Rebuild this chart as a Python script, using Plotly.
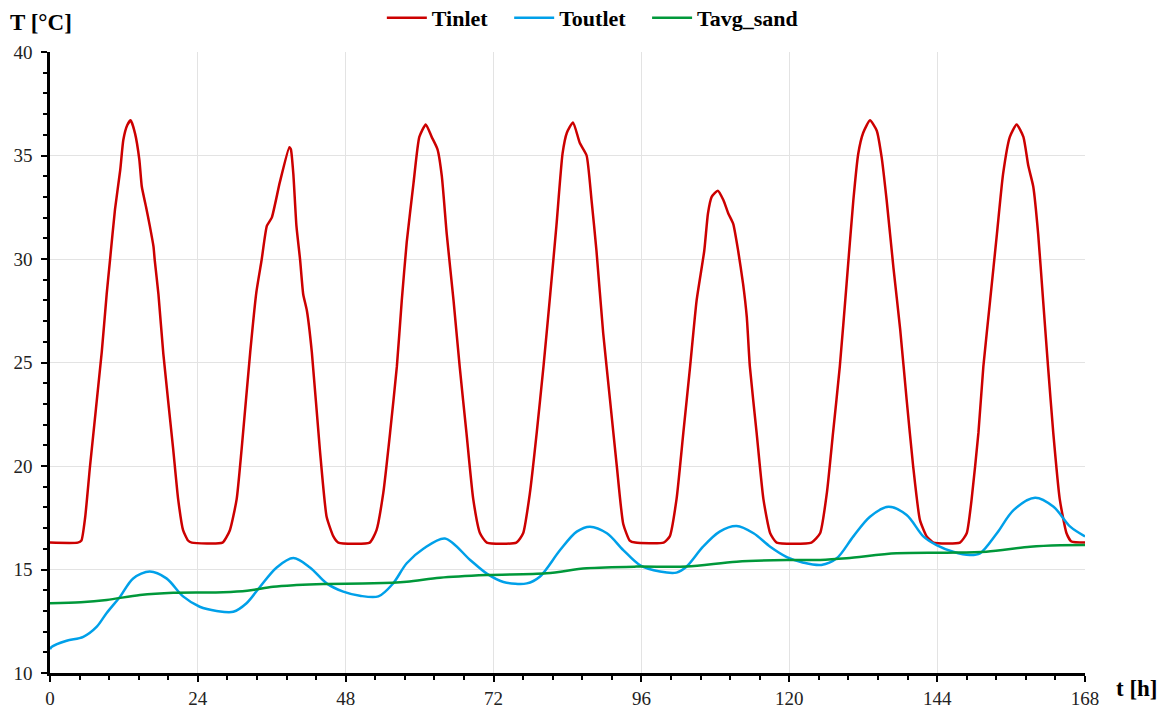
import plotly.graph_objects as go

# ---- data ----
t_inlet = [0, 4.5, 5.1, 5.7, 6.5, 8.4, 9.2, 9.74, 10.55, 11.4, 11.9, 12.55, 13.1, 13.8, 14.5, 14.9,
           15.6, 16.2, 16.8, 17.0, 17.6, 18.4, 20.0, 20.8, 21.6, 22.4, 23.0, 28.0,
           29.2, 30.3, 31.1, 32.5, 33.5, 34.35, 35.2, 36.0, 37.3, 38.85, 39.1, 39.5, 40.0, 40.6, 41.1, 41.7,
           42.5, 43.8, 44.9, 46.0, 46.8, 51.9,
           53.0, 54.1, 55.2, 56.3, 57.1, 57.9, 59.0, 59.95, 61.0, 61.95, 62.9, 63.6, 64.4, 65.5, 66.5,
           67.6, 68.7, 69.8, 70.9, 75.7,
           76.8, 77.9, 79.0, 80.1, 81.2, 82.2, 83.2, 83.9, 84.9, 86.0, 87.1, 87.9, 88.7, 89.8, 90.9,
           92.0, 93.05, 94.1, 95.0, 99.6,
           100.6, 101.7, 102.8, 103.9, 104.96, 106.2, 106.8, 107.4, 108.4, 109.3, 110.1, 110.9, 111.7,
           112.5, 113.1, 113.6, 114.7, 115.8, 116.9, 117.95, 123.6,
           125.0, 126.1, 127.1, 128.2, 129.3, 130.4, 131.2, 132.0, 133.1, 134.2, 135.0, 135.8, 136.9,
           138.0, 139.05, 140.1, 141.2, 142.3, 143.4, 147.7,
           148.8, 149.6, 150.7, 151.5, 152.6, 153.7, 154.7, 155.8, 156.9, 158.0, 158.8, 159.6, 160.4,
           161.2, 162.0, 162.85, 163.9, 165.0, 165.8, 168.0]
T_inlet = [16.3, 16.3, 16.4, 17.5, 20.0, 25.5, 28.3, 29.95, 32.4, 34.3, 35.75, 36.47, 36.7, 36.07, 34.8, 33.5,
           32.5, 31.6, 30.6, 29.95, 28.3, 25.4, 20.8, 18.4, 16.9, 16.4, 16.3, 16.3,
           16.9, 18.4, 20.8, 25.5, 28.4, 29.95, 31.6, 32.0, 33.7, 35.4, 35.3, 34.1, 31.6, 29.95, 28.3, 27.5,
           25.5, 20.8, 17.55, 16.6, 16.3, 16.3,
           16.9, 18.7, 21.6, 24.8, 28.0, 30.8, 33.65, 35.9, 36.5, 35.9, 35.3, 34.0, 31.2, 28.0, 24.8,
           21.6, 18.4, 16.75, 16.3, 16.3,
           16.75, 18.7, 21.6, 24.8, 28.3, 31.6, 35.1, 36.1, 36.6, 35.6, 35.0, 32.85, 30.4, 26.4, 23.2,
           20.0, 17.2, 16.4, 16.3, 16.3,
           16.6, 18.4, 21.6, 24.8, 28.0, 30.4, 32.2, 33.0, 33.3, 32.85, 32.2, 31.7, 30.4,
           28.8, 27.2, 24.8, 21.6, 18.4, 16.75, 16.3, 16.3,
           16.75, 18.7, 21.6, 24.8, 28.8, 32.85, 35.1, 36.1, 36.7, 36.2, 34.9, 32.85, 29.6,
           26.6, 23.2, 20.0, 17.4, 16.6, 16.3, 16.3,
           16.75, 18.4, 21.6, 24.8, 28.0, 31.2, 34.1, 35.9, 36.5, 35.9, 34.5, 33.5, 31.2,
           28.0, 24.8, 21.6, 18.4, 16.75, 16.35, 16.3]

t_outlet = [0, 0.3, 2.7, 5.4, 7.6, 9.2, 11.4, 13.5, 16.2, 18.9, 21.6, 24.3, 27.05, 29.75, 31.9, 34.1, 36.8,
            39.5, 42.2, 44.9, 47.6, 50.3, 53.3, 55.7, 57.9, 60.6, 64.1, 68.2, 70.9, 73.6, 77.4, 79.5,
            82.8, 85.5, 87.65, 90.4, 93.05, 95.8, 99.0, 101.7, 103.3, 106.0, 108.7, 111.45, 114.2,
            116.9, 119.6, 122.3, 125.2, 127.7, 130.4, 133.1, 136.1, 139.05, 141.75, 143.9, 146.6,
            149.3, 150.95, 153.7, 156.4, 159.9, 162.9, 165.6, 168.0]
T_outlet = [11.15, 11.27, 11.56, 11.75, 12.24, 12.9, 13.7, 14.57, 14.9, 14.57, 13.7, 13.2, 13.0, 12.96, 13.37,
            14.17, 15.1, 15.55, 15.1, 14.33, 13.93, 13.73, 13.7, 14.33, 15.3, 16.0, 16.5, 15.46, 14.8,
            14.4, 14.33, 14.65, 15.94, 16.83, 17.07, 16.75, 15.94, 15.2, 14.9, 14.85, 15.13, 16.1,
            16.83, 17.1, 16.75, 16.1, 15.6, 15.33, 15.22, 15.54, 16.6, 17.55, 18.03, 17.63, 16.6,
            16.18, 15.86, 15.7, 15.78, 16.75, 17.87, 18.47, 18.03, 17.07, 16.6]

t_sand = [0, 5, 9.2, 14.6, 20, 28.1, 32, 36.2, 40, 44.4, 52.5, 57.9, 63.3, 70.9, 80.6, 87.1, 95.2,
          103.3, 111.45, 119.6, 125, 129.3, 137.4, 145.5, 152, 159.1, 164, 168]
T_sand = [13.37, 13.42, 13.53, 13.77, 13.88, 13.9, 13.97, 14.17, 14.25, 14.3, 14.33, 14.41, 14.6, 14.73,
          14.82, 15.06, 15.14, 15.14, 15.38, 15.46, 15.46, 15.54, 15.78, 15.81, 15.86, 16.1, 16.17, 16.18]

series_names = ["Tinlet", "Toutlet", "Tavg_sand"]
x_ticks = [0, 24, 48, 72, 96, 120, 144, 168]
y_ticks = [10, 15, 20, 25, 30, 35, 40]

SERIF = "Liberation Serif, Times New Roman, serif"
GAP = "\u00a0\u00a0\u00a0"

fig = go.Figure()
fig.add_trace(go.Scatter(x=t_inlet, y=T_inlet, name=series_names[0] + GAP, mode="lines",
                         line=dict(color="#CC0000", width=2.5, shape="spline", smoothing=0.5)))
fig.add_trace(go.Scatter(x=t_outlet, y=T_outlet, name=series_names[1] + GAP, mode="lines",
                         line=dict(color="#00A0E9", width=2.5, shape="spline", smoothing=0.9)))
fig.add_trace(go.Scatter(x=t_sand, y=T_sand, name=series_names[2], mode="lines",
                         line=dict(color="#00983A", width=2.5, shape="spline", smoothing=0.9)))

fig.update_layout(
    width=1168, height=710,
    margin=dict(l=50, r=83, t=52, b=37, autoexpand=False),
    paper_bgcolor="white", plot_bgcolor="white",
    showlegend=True,
    legend=dict(orientation="h", x=0.524, xanchor="center", y=1.055, yanchor="middle",
                font=dict(family=SERIF, size=22, color="black", weight="bold"),
                itemwidth=40, traceorder="normal", bgcolor="rgba(0,0,0,0)"),
    font=dict(family=SERIF, color="#222222"),
)
fig.update_xaxes(range=[0, 168], tickvals=x_ticks, ticktext=[str(v) for v in x_ticks],
                 showgrid=True, gridcolor="#E3E3E3", gridwidth=1,
                 showline=True, linecolor="black", linewidth=2.5,
                 ticks="outside", ticklen=6, tickwidth=2, tickcolor="black",
                 minor=dict(dtick=4.8, tick0=0, ticks="outside", ticklen=4, tickwidth=2,
                            tickcolor="black", showgrid=False),
                 tickfont=dict(family=SERIF, size=19, color="#222222"),
                 zeroline=False, fixedrange=True)
fig.update_yaxes(range=[10, 40], tickvals=y_ticks, ticktext=[str(v) for v in y_ticks],
                 showgrid=True, gridcolor="#E3E3E3", gridwidth=1,
                 showline=True, linecolor="black", linewidth=2.5,
                 ticks="outside", ticklen=6, tickwidth=2, tickcolor="black",
                 ticklabelstandoff=5,
                 minor=dict(dtick=1, tick0=10, ticks="outside", ticklen=4, tickwidth=2,
                            tickcolor="black", showgrid=False),
                 tickfont=dict(family=SERIF, size=19, color="#222222"),
                 zeroline=False, fixedrange=True)

fig.add_annotation(text="<b>T [°C]</b>", xref="paper", yref="paper",
                   x=(8 - 50) / 1035, y=(673 - 22) / 621, xanchor="left", yanchor="middle",
                   showarrow=False, font=dict(family=SERIF, size=23, color="black"))
fig.add_annotation(text="<b>t [h]</b>", xref="paper", yref="paper",
                   x=(1114 - 50) / 1035, y=(673 - 689) / 621, xanchor="left", yanchor="middle",
                   showarrow=False, font=dict(family=SERIF, size=23, color="black"))

fig.write_html("out.html")
